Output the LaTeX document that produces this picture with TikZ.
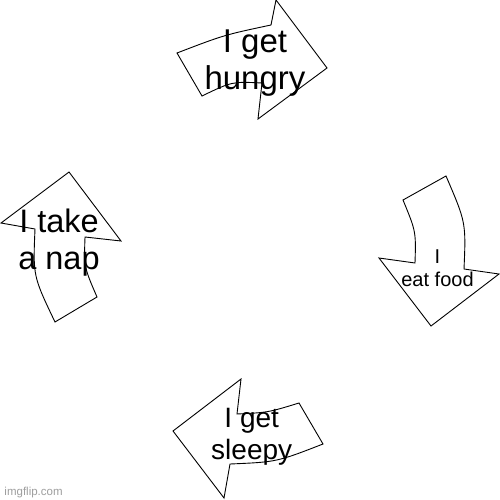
\documentclass[tikz,border=0pt]{standalone}
\usepackage{fontspec}
\setmainfont{Liberation Sans}
\begin{document}
\begin{tikzpicture}[x=1pt,y=-1pt,
  arrowshape/.style={draw=black,fill=white,line width=0.9pt,line join=miter},
  lbl/.style={inner sep=0pt,align=center,text=black},
  wmark/.style={inner sep=0pt,text=black!38}]
\useasboundingbox[fill=white] (0,0) rectangle (500,500);
% top arrow
\draw[arrowshape] (177,53) .. controls (224,35) .. (271,25) -- (276,0) -- (327,68)
  -- (258,119) -- (262,83) .. controls (232,81.5) .. (202,96) -- cycle;
% right arrow
\draw[arrowshape] (403,200) -- (446,176) .. controls (466,222.5) .. (464,269)
  -- (499,274) -- (431,326) -- (379,258) -- (415,263) .. controls (416,231.5) .. cycle;
% left arrow
\draw[arrowshape] (69,172) -- (121,241) -- (85,237) .. controls (84,267) .. (97,297)
  -- (55,322) .. controls (33,276) .. (35,229) -- (1,223) -- cycle;
% bottom arrow
\draw[arrowshape] (241,379) -- (237,414) .. controls (268,412.5) .. (299,403)
  -- (323,444) .. controls (276.7,462) .. (230,464) -- (224,498) -- (173,431) -- cycle;
% labels
\node[lbl,font=\fontsize{33}{37.6}\selectfont] (hungry) at (255,63.2) {I get\\hungry};
\node[lbl,font=\fontsize{20}{22.7}\selectfont] (food) at (437.5,268.3) {I\\eat food};
\node[lbl,font=\fontsize{32.5}{36.7}\selectfont] (nap) at (59,242.7) {I take\\a nap};
\node[lbl,font=\fontsize{28}{31.7}\selectfont] (sleepy) at (251.7,437.1) {I get\\sleepy};
\node[wmark,anchor=base west,font=\fontsize{11.5}{13}\selectfont] (wm) at (4.3,495) {imgflip.com};
\end{tikzpicture}
\end{document}
